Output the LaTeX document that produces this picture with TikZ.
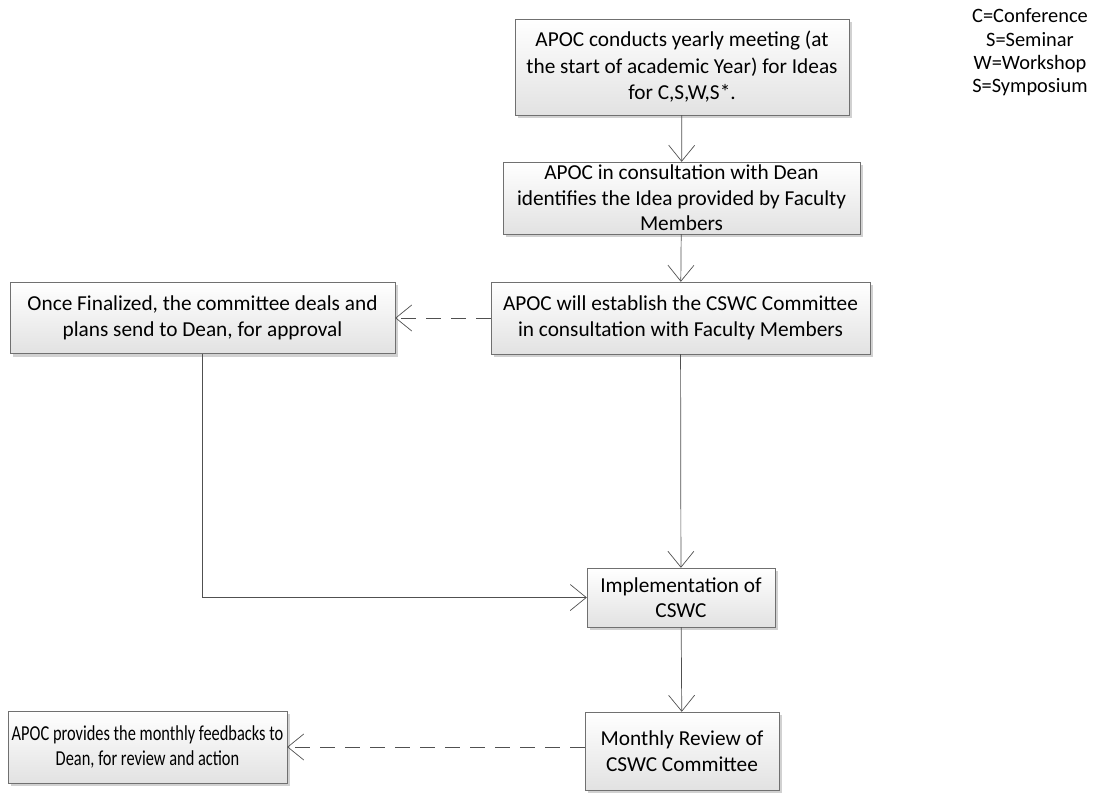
\documentclass[tikz,border=0pt]{standalone}
\usepackage{fontspec}
\usepackage{graphicx}
\setmainfont{Carlito}
\usetikzlibrary{arrows.meta,positioning,shadows}
\definecolor{edge}{HTML}{707070}
\definecolor{wire}{HTML}{505050}
\definecolor{shade}{HTML}{E2E2E2}
\newcommand{\narrow}[1]{\scalebox{0.77}[1]{#1}}

\begin{document}
\begin{tikzpicture}[
  x=1pt,y=1pt,
  box/.style={draw=edge,top color=white,bottom color=shade,align=center,
              font=\fontsize{21.3}{25.5}\selectfont,inner sep=2pt,
              drop shadow={shadow xshift=3pt,shadow yshift=-3pt,fill=black!18,opacity=1}},
  ar/.style={-{Straight Barb[length=16pt,width=26pt]},draw=wire,line width=0.7pt},
  dar/.style={ar,dash pattern=on 15pt off 10pt}
]
\useasboundingbox (0,0) rectangle (1095,-794);

\node[box,minimum width=334,minimum height=96,font=\fontsize{21.3}{26.5}\selectfont] (meet) at (682,-67)
  {APOC conducts yearly meeting (at\\the start of academic Year) for Ideas\\for C,S,W,S*.};
\node[box,minimum width=357,minimum height=72] (idea) at (681.5,-198)
  {APOC in consultation with Dean\\identifies the Idea provided by Faculty\\Members};
\node[box,minimum width=379,minimum height=72] (comm) at (680.5,-318)
  {APOC will establish the CSWC Committee\\in consultation with Faculty Members};
\node[box,minimum width=385,minimum height=71] (plan) at (202.5,-318)
  {Once Finalized, the committee deals and\\plans send to Dean, for approval};
\node[box,minimum width=188,minimum height=59] (impl) at (681,-597.5)
  {Implementation of\\CSWC};
\node[box,minimum width=194,minimum height=78] (rev) at (682,-751)
  {Monthly Review of\\CSWC Committee};
\node[box,minimum width=279,minimum height=72] (feed) at (147.5,-747)
  {\narrow{APOC provides the monthly feedbacks to}\\\narrow{Dean, for review and action}};

\node[align=center,font=\fontsize{20.4}{23.3}\selectfont] (legend) at (1030,-52.5)
  {C=Conference\\S=Seminar\\W=Workshop\\S=Symposium};

\draw[ar] (meet)--(idea); \draw[ar] (idea)--(comm);
\draw[ar] (comm)--(impl); \draw[ar] (impl)--(rev);
\draw[dar] (comm)--(plan); \draw[dar] (rev.west|-feed)--(feed);
\draw[ar] (plan.south)|-(impl.west);
\end{tikzpicture}
\end{document}
